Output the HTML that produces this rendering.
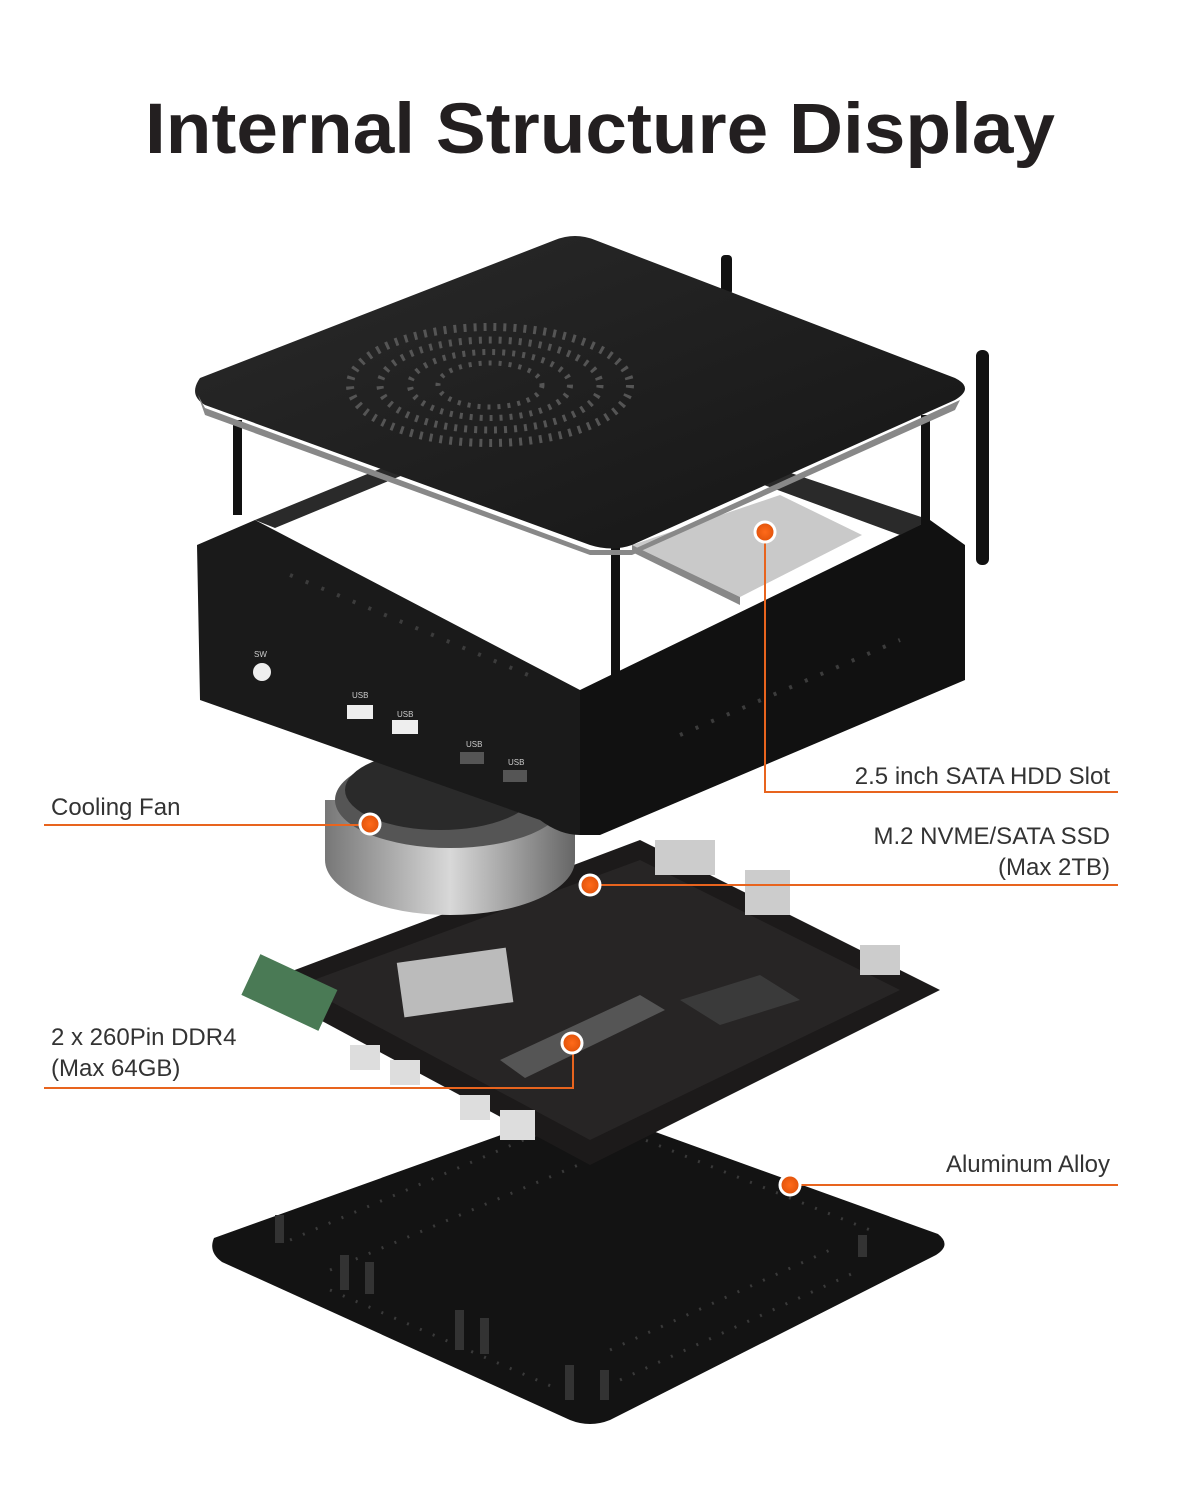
<!DOCTYPE html>
<html><head><meta charset="utf-8"><style>
html,body{margin:0;padding:0;background:#fff}
svg{display:block}
text{font-family:"Liberation Sans",Arial,sans-serif}
</style></head><body>
<svg width="1200" height="1500" viewBox="0 0 1200 1500" xmlns="http://www.w3.org/2000/svg">
<defs>
<linearGradient id="lid" x1="0" y1="0" x2="1" y2="1"><stop offset="0" stop-color="#2a2a2a"/><stop offset="1" stop-color="#151515"/></linearGradient>
<linearGradient id="fan" x1="0" y1="0" x2="1" y2="0"><stop offset="0" stop-color="#777"/><stop offset=".5" stop-color="#d8d8d8"/><stop offset="1" stop-color="#666"/></linearGradient>
<radialGradient id="dot"><stop offset="0" stop-color="#ff6a1a"/><stop offset="1" stop-color="#e0520a"/></radialGradient>
</defs>
<rect width="1200" height="1500" fill="#fff"/>
<text x="600" y="153" text-anchor="middle" font-size="71" font-weight="bold" fill="#231f20" textLength="910" lengthAdjust="spacingAndGlyphs">Internal Structure Display</text>

<!-- base plate -->
<path d="M214,1238 Q208,1252 222,1262 L570,1420 Q590,1428 610,1420 L936,1255 Q952,1245 938,1234 L600,1112 Q582,1106 565,1112 Z" fill="#131313"/>
<g stroke="#3a3a3a" stroke-width="3" stroke-dasharray="2 12" fill="none">
<line x1="290" y1="1240" x2="570" y2="1120"/><line x1="330" y1="1270" x2="590" y2="1160"/>
<line x1="620" y1="1130" x2="870" y2="1230"/><line x1="330" y1="1290" x2="560" y2="1390"/>
<line x1="620" y1="1380" x2="860" y2="1270"/><line x1="610" y1="1350" x2="830" y2="1250"/>
</g>
<g fill="#333">
<rect x="275" y="1215" width="9" height="28"/><rect x="340" y="1255" width="9" height="35"/><rect x="365" y="1262" width="9" height="32"/>
<rect x="455" y="1310" width="9" height="40"/><rect x="480" y="1318" width="9" height="36"/><rect x="565" y="1365" width="9" height="35"/><rect x="600" y="1370" width="9" height="30"/><rect x="858" y="1235" width="9" height="22"/>
</g>

<!-- motherboard -->
<path d="M255,985 L640,840 L940,990 L590,1165 Z" fill="#1c1a1a"/>
<path d="M300,985 L640,860 L900,990 L590,1140 Z" fill="#2b2828" opacity=".8"/>
<rect x="400" y="955" width="110" height="55" fill="#bbb" transform="rotate(-8 455 982)"/>
<path d="M500,1060 L640,995 L665,1010 L525,1078 Z" fill="#555"/>
<path d="M680,1000 L760,975 L800,1000 L720,1025 Z" fill="#3a3a3a"/>
<g fill="#ddd"><rect x="350" y="1045" width="30" height="25"/><rect x="390" y="1060" width="30" height="25"/><rect x="460" y="1095" width="30" height="25"/><rect x="500" y="1110" width="35" height="30"/></g>
<rect x="248" y="970" width="85" height="45" fill="#4a7a55" transform="rotate(25 290 990)"/>
<g fill="#ccc"><rect x="655" y="840" width="60" height="35"/><rect x="745" y="870" width="45" height="45"/><rect x="860" y="945" width="40" height="30"/></g>

<!-- fan -->
<ellipse cx="450" cy="860" rx="125" ry="55" fill="url(#fan)"/>
<rect x="325" y="800" width="250" height="60" fill="url(#fan)"/>
<ellipse cx="450" cy="800" rx="115" ry="48" fill="#555"/>
<ellipse cx="440" cy="790" rx="95" ry="40" fill="#2a2a2a"/>

<!-- chassis -->
<path d="M197,545 L255,520 L580,690 L580,835 Q560,835 540,820 L200,700 Z" fill="#1a1a1a"/>
<path d="M580,690 L930,520 L965,545 L965,680 L600,835 L580,835 Z" fill="#111"/>
<path d="M255,520 L560,395 L930,520 L900,535 L560,410 L275,528 Z" fill="#2a2a2a"/>
<g stroke="#3c3c3c" stroke-width="4" fill="none">
<line x1="290" y1="575" x2="540" y2="680" stroke-dasharray="3 14"/>
<line x1="680" y1="735" x2="900" y2="640" stroke-dasharray="3 14"/>
</g>
<circle cx="262" cy="672" r="9" fill="#eee"/>
<g fill="#eee"><rect x="347" y="705" width="26" height="14"/><rect x="392" y="720" width="26" height="14"/><rect x="460" y="752" width="24" height="12" fill="#555"/><rect x="503" y="770" width="24" height="12" fill="#555"/></g>
<g font-size="8" fill="#ccc"><text x="254" y="657">SW</text><text x="352" y="698">USB</text><text x="397" y="717">USB</text><text x="466" y="747">USB</text><text x="508" y="765">USB</text></g>
<!-- HDD -->
<path d="M632,545 L780,495 L862,535 L740,597 Z" fill="#c9c9c9"/>
<path d="M632,545 L740,597 L740,605 L632,552 Z" fill="#888"/>
<!-- legs / antennas -->
<g fill="#111"><rect x="233" y="420" width="9" height="95"/><rect x="611" y="545" width="9" height="130"/><rect x="921" y="415" width="9" height="110"/>
<rect x="721" y="255" width="11" height="40" rx="4"/><rect x="976" y="350" width="13" height="215" rx="6"/></g>

<!-- lid -->
<path d="M200,378 Q188,395 205,405 L590,545 Q612,552 632,545 L955,400 Q975,388 955,378 L595,240 Q575,232 555,240 Z" fill="url(#lid)"/>
<path d="M198,395 L205,408 L590,550 L632,550 L960,400 L955,410 L632,555 L590,555 L205,415 Z" fill="#888"/>
<ellipse cx="490" cy="385" rx="140" ry="58" fill="none" stroke="#555" stroke-width="8" stroke-dasharray="3 7"/>
<ellipse cx="490" cy="385" rx="110" ry="45" fill="none" stroke="#555" stroke-width="7" stroke-dasharray="3 7"/>
<ellipse cx="490" cy="385" rx="80" ry="33" fill="none" stroke="#555" stroke-width="6" stroke-dasharray="3 7"/>
<ellipse cx="490" cy="385" rx="52" ry="22" fill="none" stroke="#555" stroke-width="5" stroke-dasharray="3 7"/>

<!-- callouts -->
<g stroke="#e8641e" stroke-width="2" fill="none">
<polyline points="765,532 765,792 1118,792"/>
<line x1="44" y1="825" x2="370" y2="825"/>
<line x1="590" y1="885" x2="1118" y2="885"/>
<polyline points="44,1088 573,1088 573,1043"/>
<line x1="790" y1="1185" x2="1118" y2="1185"/>
</g>
<g fill="url(#dot)" stroke="#fff" stroke-width="3">
<circle cx="765" cy="532" r="10"/><circle cx="370" cy="824" r="10"/><circle cx="590" cy="885" r="10"/><circle cx="572" cy="1043" r="10"/><circle cx="790" cy="1185" r="10"/>
</g>
<g font-size="24" fill="#333">
<text x="1110" y="784" text-anchor="end">2.5 inch SATA HDD Slot</text>
<text x="51" y="815">Cooling Fan</text>
<text x="1110" y="844" text-anchor="end">M.2 NVME/SATA SSD</text>
<text x="1110" y="875" text-anchor="end">(Max 2TB)</text>
<text x="51" y="1045">2 x 260Pin DDR4</text>
<text x="51" y="1076">(Max 64GB)</text>
<text x="1110" y="1172" text-anchor="end">Aluminum Alloy</text>
</g>
</svg>
</body></html>
